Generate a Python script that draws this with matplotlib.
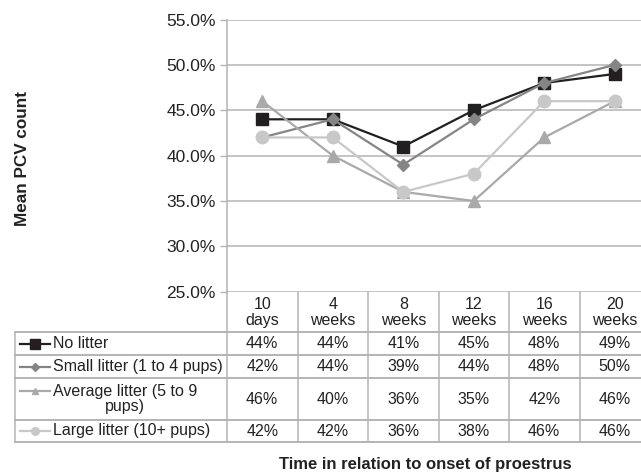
import numpy as np
import matplotlib.pyplot as plt
from matplotlib.lines import Line2D

plt.rcParams['font.family'] = ['Liberation Sans', 'DejaVu Sans']

# mean PCV (%) per group at each time point
time_points = ['10\ndays', '4\nweeks', '8\nweeks', '12\nweeks', '16\nweeks', '20\nweeks']
no_litter = [44, 44, 41, 45, 48, 49]
small_litter = [42, 44, 39, 44, 48, 50]
average_litter = [46, 40, 36, 35, 42, 46]
large_litter = [42, 42, 36, 38, 46, 46]

series_names = ['No litter', 'Small litter (1 to 4 pups)',
                'Average litter (5 to 9\npups)', 'Large litter (10+ pups)']
series_vals = [no_litter, small_litter, average_litter, large_litter]
styles = [dict(color='#231f20', marker='s', ms=8, key_ms=7),
          dict(color='#858585', marker='D', ms=6.5, key_ms=4),
          dict(color='#a9a9a9', marker='^', ms=8, key_ms=5),
          dict(color='#c8c8c8', marker='o', ms=9, key_ms=5.5)]

W, H = 641, 475
fig = plt.figure(figsize=(W / 100, H / 100), dpi=100)

# plot area in pixel terms
ax_l, ax_r, ax_t, ax_b = 227, 650, 19.5, 291.7
ax = fig.add_axes([ax_l / W, 1 - ax_b / H, (ax_r - ax_l) / W, (ax_b - ax_t) / H])
grid_c = '#b4b4b4'
txt_c = '#222222'
x = np.arange(len(time_points))
for vals, st in zip(series_vals, styles):
    ax.plot(x, vals, color=st['color'], lw=1.6, marker=st['marker'],
            ms=st['ms'], mec=st['color'], mfc=st['color'], zorder=3)
ax.set_xlim(-0.5, len(time_points) - 0.5)
ax.set_ylim(25, 55)
ax.set_yticks(np.arange(25, 56, 5))
ax.set_yticklabels([f'{v:.1f}%' for v in np.arange(25, 56, 5)], fontsize=12.5, color=txt_c)
ax.set_xticks([])
ax.yaxis.grid(True, color=grid_c, lw=1.1)
ax.tick_params(axis='y', length=5, width=1, color=grid_c, pad=3)
for s in ['top', 'right', 'bottom']:
    ax.spines[s].set_visible(False)
ax.spines['left'].set_color(grid_c)
ax.spines['left'].set_linewidth(1.1)

# overlay in pixel coordinates for the data table
ov = fig.add_axes([0, 0, 1, 1])
ov.set_xlim(0, W)
ov.set_ylim(H, 0)
ov.axis('off')

col_w = (ax_r - ax_l) / len(time_points)
col_x = [ax_l + col_w * i for i in range(len(time_points) + 1)]
row_y = [332, 355, 378, 420, 442]
tbl_l = 15
lc = '#b4b4b4'

# column lines through header and body
for cx in col_x:
    ov.add_line(Line2D([cx, cx], [ax_b, row_y[-1]], color=lc, lw=1.1))
ov.add_line(Line2D([tbl_l, tbl_l], [row_y[0], row_y[-1]], color=lc, lw=1.1))
for ry in row_y:
    ov.add_line(Line2D([tbl_l, ax_r], [ry, ry], color=lc, lw=1.4))

for i, lab in enumerate(time_points):
    ov.text((col_x[i] + col_x[i + 1]) / 2, (ax_b + row_y[0]) / 2 + 1, lab,
            ha='center', va='center', fontsize=11.5, linespacing=1.1, color=txt_c)

for r, (name, vals, st) in enumerate(zip(series_names, series_vals, styles)):
    yc = (row_y[r] + row_y[r + 1]) / 2
    ky = yc - (8 if '\n' in name else 0)
    ov.plot([20, 50], [ky, ky], color=st['color'], lw=1.6)
    ov.plot([35], [ky], marker=st['marker'], color=st['color'], ms=st['key_ms'])
    ov.text(53, yc, name, ha='left', va='center', multialignment='center',
            fontsize=11.5, linespacing=1.05, color=txt_c)
    for i, v in enumerate(vals):
        ov.text((col_x[i] + col_x[i + 1]) / 2, yc, f'{v}%', ha='center', va='center',
                fontsize=11.5, color=txt_c)

ov.text(23, 158, 'Mean PCV count', rotation=90, ha='center', va='center',
        fontsize=12.3, fontweight='bold', color=txt_c)
ov.text(425, 465, 'Time in relation to onset of proestrus', ha='center', va='center',
        fontsize=12, fontweight='bold', color=txt_c)

fig.savefig('out.png', dpi=100)
